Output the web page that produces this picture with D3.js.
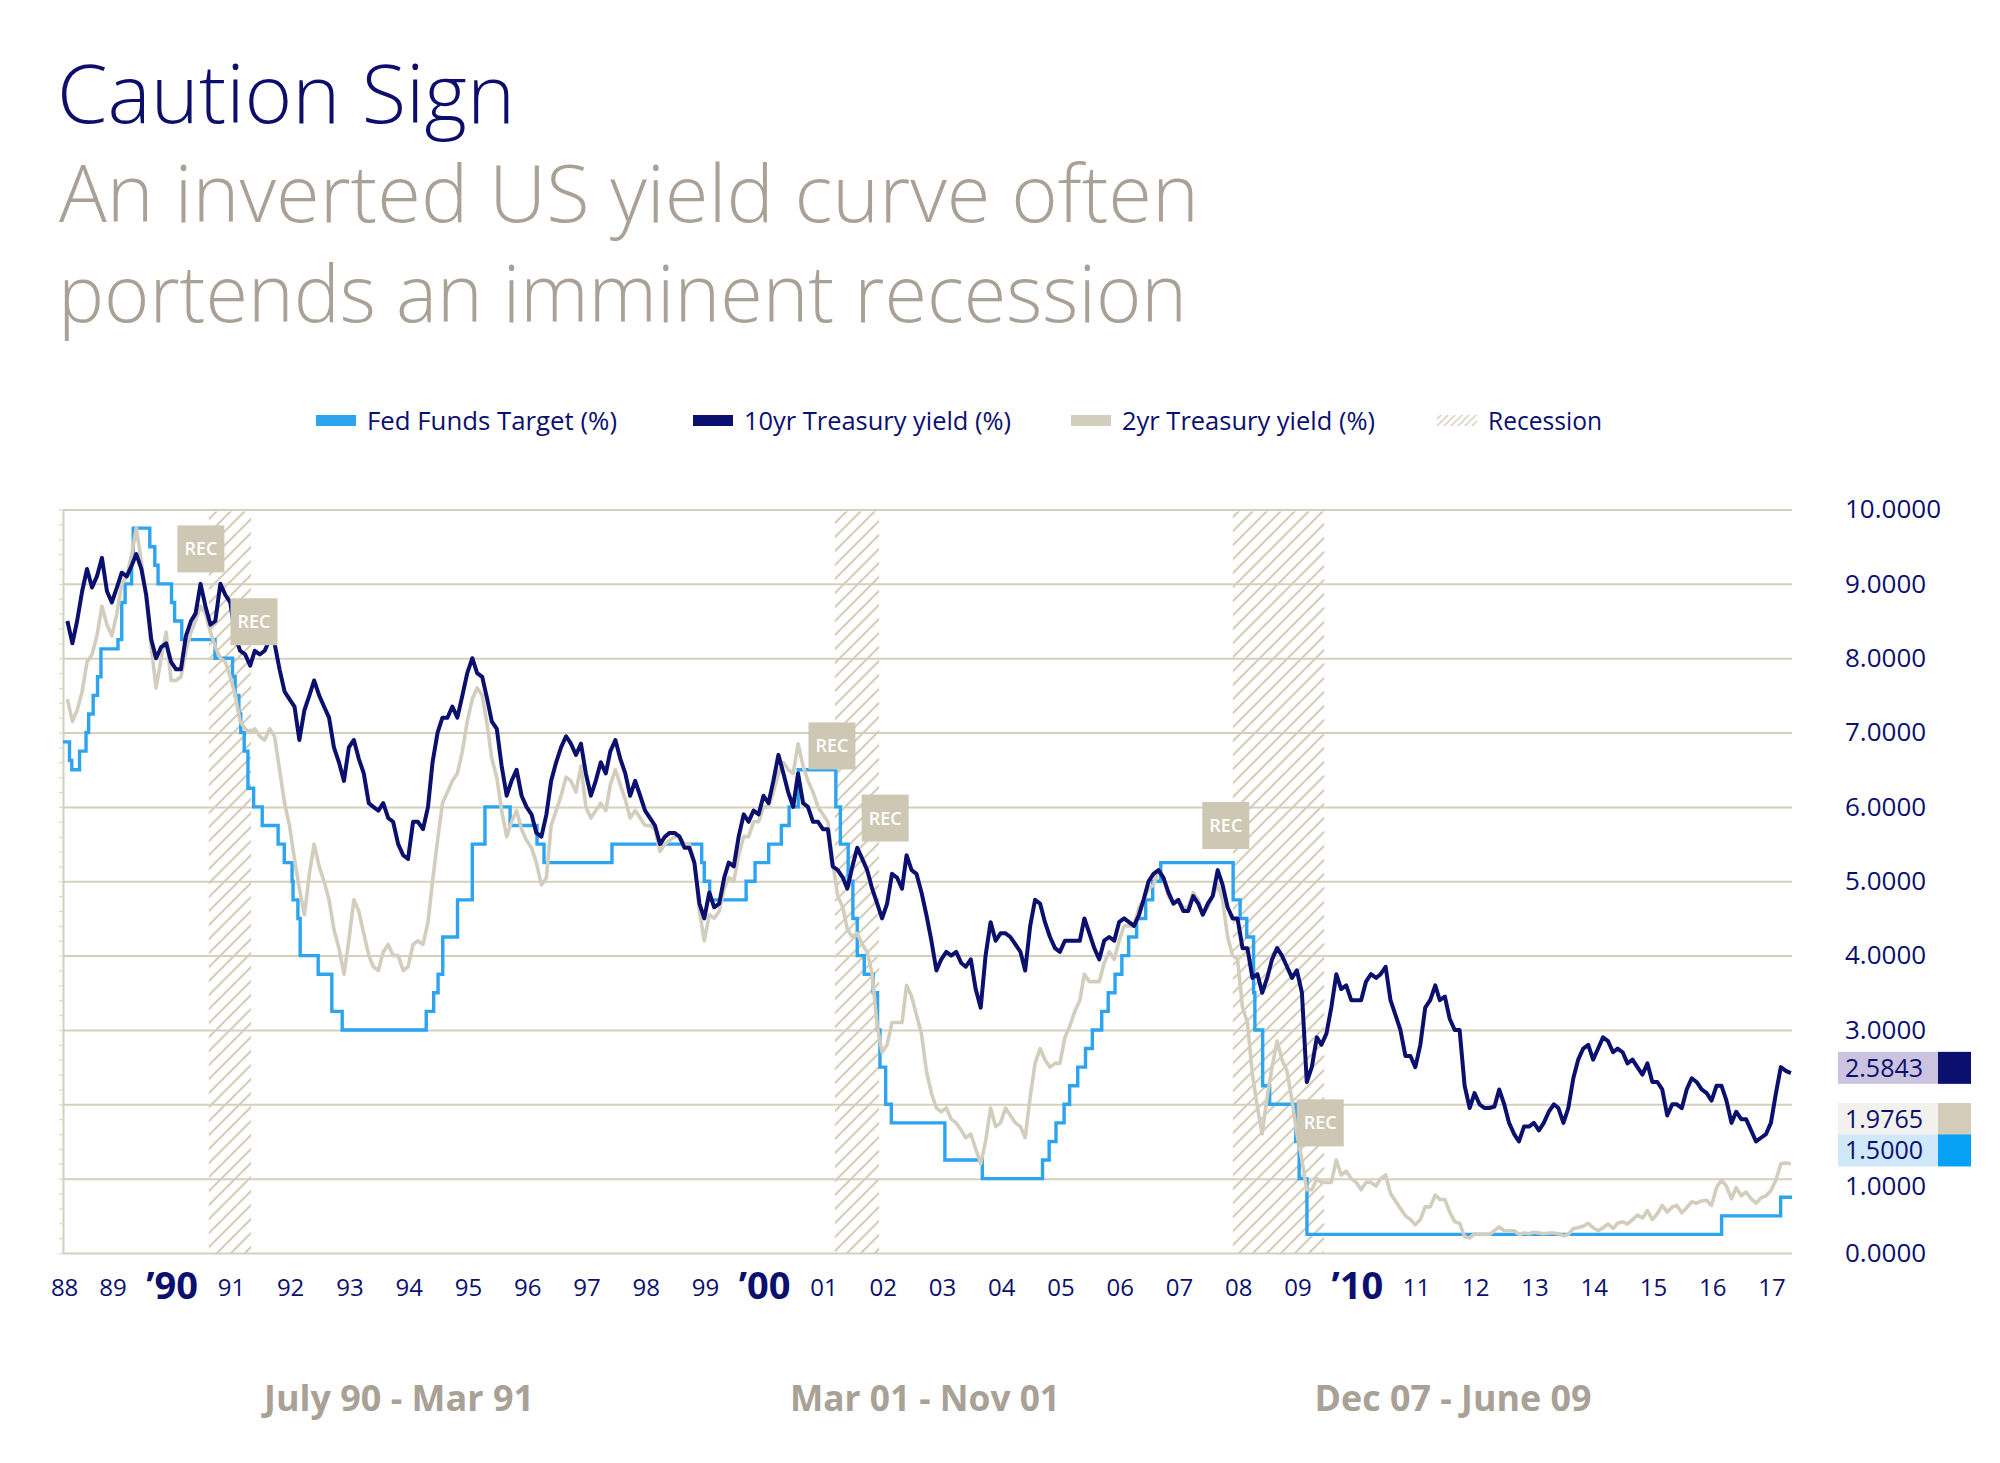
<!DOCTYPE html>
<html><head><meta charset="utf-8">
<script src="https://cdn.jsdelivr.net/npm/d3@7"></script>
<style>
html,body{margin:0;padding:0;background:#fff;}
svg{display:block;}
text{font-family:"Open Sans","Noto Sans",sans-serif;}
</style></head><body>
<svg id="chart" width="2000" height="1463"></svg>
<script>
// ---------------- DATA ----------------
const seriesStart = "1988-01"; // monthly values, first month
const tenYear = [
 8.5,8.2,8.5,8.9,9.2,8.95,9.1,9.35,8.9,8.75,8.95,9.15,
 9.1,9.25,9.4,9.2,8.85,8.25,8.0,8.15,8.2,7.95,7.85,7.85,
 8.3,8.5,8.6,9.0,8.7,8.45,8.5,9.0,8.85,8.75,8.3,8.1,
 8.05,7.9,8.1,8.05,8.1,8.25,8.2,7.85,7.55,7.45,7.35,6.9,
 7.3,7.5,7.7,7.5,7.35,7.2,6.8,6.6,6.35,6.8,6.9,6.65,
 6.45,6.05,6.0,5.95,6.05,5.85,5.8,5.5,5.35,5.3,5.8,5.8,
 5.7,6.0,6.6,7.0,7.2,7.2,7.35,7.2,7.5,7.8,8.0,7.8,
 7.75,7.45,7.15,7.05,6.55,6.15,6.35,6.5,6.15,6.0,5.9,5.65,
 5.6,5.9,6.35,6.6,6.8,6.95,6.85,6.7,6.85,6.45,6.15,6.35,
 6.6,6.45,6.75,6.9,6.65,6.45,6.15,6.35,6.15,5.95,5.85,5.75,
 5.5,5.6,5.65,5.65,5.6,5.45,5.45,5.25,4.7,4.5,4.85,4.65,
 4.7,5.05,5.25,5.2,5.6,5.9,5.8,5.95,5.9,6.15,6.05,6.35,
 6.7,6.45,6.2,6.0,6.45,6.05,6.0,5.8,5.8,5.7,5.7,5.2,
 5.15,5.05,4.9,5.2,5.45,5.3,5.15,4.9,4.7,4.5,4.7,5.1,
 5.05,4.9,5.35,5.15,5.1,4.85,4.55,4.2,3.8,3.95,4.05,4.0,
 4.05,3.9,3.85,3.95,3.55,3.3,4.0,4.45,4.2,4.3,4.3,4.25,
 4.15,4.05,3.8,4.4,4.75,4.7,4.45,4.25,4.1,4.05,4.2,4.2,
 4.2,4.2,4.5,4.3,4.1,3.95,4.2,4.25,4.2,4.45,4.5,4.45,
 4.4,4.55,4.75,5.0,5.1,5.15,5.05,4.85,4.7,4.75,4.6,4.6,
 4.8,4.7,4.55,4.7,4.8,5.15,4.95,4.65,4.5,4.5,4.1,4.1,
 3.7,3.75,3.5,3.7,3.95,4.1,4.0,3.85,3.7,3.8,3.5,2.3,
 2.5,2.9,2.8,2.95,3.3,3.75,3.55,3.6,3.4,3.4,3.4,3.65,
 3.75,3.7,3.75,3.85,3.4,3.2,3.0,2.65,2.65,2.5,2.8,3.3,
 3.4,3.6,3.4,3.45,3.15,3.0,3.0,2.25,1.95,2.15,2.0,1.95,
 1.95,1.97,2.2,2.0,1.75,1.6,1.5,1.7,1.7,1.75,1.65,1.75,
 1.9,2.0,1.95,1.75,1.95,2.35,2.6,2.75,2.8,2.6,2.75,2.9,
 2.85,2.7,2.75,2.7,2.55,2.6,2.5,2.4,2.55,2.3,2.3,2.2,
 1.85,2.0,2.0,1.95,2.2,2.35,2.3,2.2,2.15,2.05,2.25,2.25,
 2.05,1.75,1.9,1.8,1.8,1.65,1.5,1.55,1.6,1.75,2.15,2.5,
 2.45,2.42
];
const twoYear = [
 7.45,7.15,7.3,7.55,7.95,8.05,8.3,8.7,8.45,8.3,8.6,9.0,
 9.1,9.4,9.75,9.3,8.8,8.15,7.6,8.0,8.35,7.7,7.7,7.75,
 8.1,8.35,8.5,8.7,8.6,8.35,8.15,8.0,7.95,7.75,7.5,7.15,
 7.05,7.0,7.05,6.95,6.9,7.05,6.95,6.5,6.05,5.75,5.3,4.9,
 4.55,5.1,5.5,5.2,5.0,4.75,4.35,4.1,3.75,4.2,4.75,4.6,
 4.3,4.0,3.85,3.8,4.05,4.15,4.0,4.0,3.8,3.85,4.15,4.2,
 4.15,4.45,5.0,5.55,6.05,6.2,6.35,6.45,6.75,7.15,7.45,7.6,
 7.5,7.1,6.65,6.4,5.95,5.6,5.8,5.95,5.7,5.55,5.45,5.25,
 4.95,5.05,5.75,5.95,6.15,6.4,6.35,6.2,6.55,6.0,5.85,5.95,
 6.05,5.95,6.3,6.5,6.3,6.1,5.85,5.95,5.85,5.75,5.75,5.7,
 5.4,5.5,5.55,5.6,5.6,5.5,5.5,5.25,4.6,4.2,4.55,4.5,
 4.6,4.9,5.05,5.0,5.35,5.6,5.6,5.8,5.8,6.0,6.0,6.2,
 6.45,6.6,6.5,6.45,6.85,6.55,6.35,6.2,6.0,5.9,5.8,5.25,
 4.8,4.65,4.35,4.25,4.3,4.15,4.05,3.75,3.05,2.7,2.8,3.1,
 3.1,3.1,3.6,3.45,3.2,2.95,2.45,2.15,1.95,1.9,1.95,1.8,
 1.75,1.65,1.55,1.6,1.4,1.2,1.5,1.95,1.7,1.75,1.95,1.85,
 1.75,1.7,1.55,2.1,2.55,2.75,2.6,2.5,2.55,2.55,2.9,3.05,
 3.25,3.4,3.75,3.65,3.65,3.65,3.9,4.05,3.95,4.2,4.4,4.4,
 4.4,4.65,4.75,4.9,4.95,5.15,5.05,4.8,4.7,4.75,4.65,4.65,
 4.85,4.75,4.55,4.65,4.8,4.95,4.75,4.25,4.0,3.95,3.3,3.1,
 2.4,1.95,1.6,2.1,2.5,2.85,2.6,2.45,2.05,1.6,1.25,0.85,
 0.85,1.0,0.95,0.95,0.95,1.25,1.05,1.1,1.0,0.95,0.85,0.95,
 0.95,0.9,1.0,1.05,0.8,0.7,0.6,0.5,0.45,0.38,0.45,0.62,
 0.62,0.78,0.72,0.72,0.55,0.42,0.4,0.22,0.2,0.26,0.25,0.25,
 0.25,0.3,0.35,0.3,0.3,0.3,0.25,0.27,0.26,0.28,0.27,0.26,
 0.27,0.27,0.26,0.23,0.25,0.33,0.34,0.36,0.4,0.34,0.3,0.34,
 0.39,0.33,0.4,0.42,0.39,0.45,0.51,0.47,0.57,0.45,0.53,0.64,
 0.55,0.62,0.64,0.54,0.61,0.69,0.67,0.7,0.71,0.64,0.88,0.98,
 0.9,0.73,0.88,0.77,0.82,0.73,0.67,0.74,0.77,0.84,0.98,1.2,
 1.21,1.2
];
// Fed funds target: change dates and new target level (%)
const fedDates = ["1987-12-19","1988-01-28","1988-02-11","1988-03-30","1988-05-09","1988-05-25","1988-06-22","1988-07-19","1988-08-09","1988-11-22","1988-12-15","1989-01-05","1989-02-14","1989-02-24","1989-06-06","1989-07-07","1989-07-27","1989-10-18","1989-11-06","1989-12-20","1990-07-13","1990-10-29","1990-11-14","1990-12-07","1990-12-19","1991-01-09","1991-02-01","1991-03-08","1991-04-30","1991-08-06","1991-09-13","1991-10-31","1991-11-06","1991-12-06","1991-12-20","1992-04-09","1992-07-02","1992-09-04","1994-02-04","1994-03-22","1994-04-18","1994-05-17","1994-08-16","1994-11-15","1995-02-01","1995-07-06","1995-12-19","1996-01-31","1997-03-25","1998-09-29","1998-10-15","1998-11-17","1999-06-30","1999-08-24","1999-11-16","2000-02-02","2000-03-21","2000-05-16","2001-01-03","2001-01-31","2001-03-20","2001-04-18","2001-05-15","2001-06-27","2001-08-21","2001-09-17","2001-10-02","2001-11-06","2001-12-11","2002-11-06","2003-06-25","2004-06-30","2004-08-10","2004-09-21","2004-11-10","2004-12-14","2005-02-02","2005-03-22","2005-05-03","2005-06-30","2005-08-09","2005-09-20","2005-11-01","2005-12-13","2006-01-31","2006-03-28","2006-05-10","2006-06-29","2007-09-18","2007-10-31","2007-12-11","2008-01-22","2008-01-30","2008-03-18","2008-04-30","2008-10-08","2008-10-29","2008-12-16","2015-12-16","2016-12-14","2017-02-22"];
const fedTargets = [6.875,6.625,6.5,6.75,7.0,7.25,7.5,7.75,8.125,8.25,8.75,9.0,9.3125,9.75,9.5,9.25,9.0,8.75,8.5,8.25,8.0,7.75,7.5,7.25,7.0,6.75,6.25,6.0,5.75,5.5,5.25,5.0,4.75,4.5,4.0,3.75,3.25,3.0,3.25,3.5,3.75,4.25,4.75,5.5,6.0,5.75,5.5,5.25,5.5,5.25,5.0,4.75,5.0,5.25,5.5,5.75,6.0,6.5,6.0,5.5,5.0,4.5,4.0,3.75,3.5,3.0,2.5,2.0,1.75,1.25,1.0,1.25,1.5,1.75,2.0,2.25,2.5,2.75,3.0,3.25,3.5,3.75,4.0,4.25,4.5,4.75,5.0,5.25,4.75,4.5,4.25,3.5,3.0,2.25,2.0,1.5,1.0,0.25,0.5,0.75,0.75];

const recessionStart = ["1990-06-05","2000-12-28","2007-09-16"];
const recessionEnd   = ["1991-02-20","2001-09-27","2009-04-01"];
const recessionNames = ["July 90 - Mar 91","Mar 01 - Nov 01","Dec 07 - June 09"];

// "REC" markers: anchor date and yield level
const recMarkDates  = ["1990-04-17","1991-03-10","2000-12-10","2001-11-03","2007-08-04","2009-03-08"];
const recMarkLevels = [9.47,8.49,6.82,5.85,5.75,1.75];

const yearTicks  = d3.range(1988, 2018);
const yearLabels = ["88","89","\u201990","91","92","93","94","95","96","97","98","99","\u201900","01","02","03","04","05","06","07","08","09","\u201910","11","12","13","14","15","16","17"];
const yTicks = [0,1,2,3,4,5,6,7,8,9,10];

const seriesNames  = ["Fed Funds Target (%)","10yr Treasury yield (%)","2yr Treasury yield (%)","Recession"];
const lastLabelNames  = ["10yr","2yr","Fed"];
const lastLabelValues = [2.5843, 1.9765, 1.5000];

// ---------------- STYLE / LAYOUT ----------------
const C = {
  navy:"#0b0f6e", blue:"#2da4ef", beige:"#d3cdbd", grid:"#d5cfbd",
  title:"#0d0d6b", sub:"#a9a096", rec:"#cec7b3", hatch:"#d4cdb8"
};
const svg = d3.select("#chart");
const parse = d3.utcParse("%Y-%m-%d");
const x = d3.scaleUtc().domain([parse("1987-12-19"), parse("2017-02-22")]).range([63, 1792]);
const xLab = x.copy().range([63-12, 1792-12]); // printed year labels sit slightly left
const y = d3.scaleLinear().domain([0,10]).range([1253, 509.5]);
const m0 = parse(seriesStart + "-15");
const monthDate = i => d3.utcMonth.offset(m0, i);

const defs = svg.append("defs");
function hatchPattern(id, size, sw){
  const p = defs.append("pattern").attr("id", id).attr("patternUnits","userSpaceOnUse")
    .attr("width", size).attr("height", size);
  p.append("path").attr("d", `M-1,1 l2,-2 M0,${size} l${size},-${size} M${size-1},${size+1} l2,-2`)
    .attr("stroke", C.hatch).attr("stroke-width", sw);
}
hatchPattern("hatch", 14, 2);
hatchPattern("hatchSmall", 7, 1.3);

// ---------------- TITLES ----------------
svg.append("text").attr("x", 57).attr("y", 123).attr("fill", C.title)
  .attr("font-size", 81).attr("font-weight", 350).attr("textLength", 458).attr("lengthAdjust","spacingAndGlyphs")
  .text("Caution Sign");
svg.append("text").attr("x", 59).attr("y", 222).attr("fill", C.sub)
  .attr("font-size", 80).attr("font-weight", 350).attr("textLength", 1140).attr("lengthAdjust","spacingAndGlyphs")
  .text("An inverted US yield curve often");
svg.append("text").attr("x", 58).attr("y", 322).attr("fill", C.sub)
  .attr("font-size", 80).attr("font-weight", 350).attr("textLength", 1129).attr("lengthAdjust","spacingAndGlyphs")
  .text("portends an imminent recession");

// ---------------- LEGEND ----------------
const legendX = [316, 693, 1071, 1437];
const legendFill = [C.blue, C.navy, C.beige, "url(#hatchSmall)"];
const legendTextW = [250, 267, 253, 114];
const lg = svg.append("g").attr("transform","translate(0,421)");
seriesNames.forEach((name,i)=>{
  lg.append("rect").attr("x", legendX[i]).attr("y", -6).attr("width", 40).attr("height", 11).attr("fill", legendFill[i]);
  lg.append("text").attr("x", legendX[i]+51).attr("y", 0).attr("dy","0.35em")
    .attr("font-size", 25).attr("fill", C.navy)
    .attr("textLength", legendTextW[i]).attr("lengthAdjust","spacingAndGlyphs").text(name);
});

// ---------------- GRID / AXES ----------------
const grid = svg.append("g").attr("transform","translate(63,0)")
  .call(d3.axisLeft(y).tickValues(yTicks).tickSize(-(1792-63)).tickFormat("").tickSizeOuter(0));
grid.selectAll("line").attr("stroke", C.grid).attr("stroke-width", 2);
grid.select(".domain").attr("stroke", C.grid).attr("stroke-width", 2);

const minor = svg.append("g").attr("transform","translate(63,0)")
  .call(d3.axisLeft(y).tickValues(d3.range(0, 10.001, 0.2)).tickSize(4).tickFormat(""));
minor.select(".domain").remove();
minor.selectAll("line").attr("stroke", "#ddd7c8").attr("stroke-width", 1.2);

// recession bands
const bands = svg.append("g");
recessionStart.forEach((s,i)=>{
  const x0 = x(parse(s)), x1 = x(parse(recessionEnd[i]));
  bands.append("rect").attr("x", x0).attr("y", y(10)+2).attr("width", x1-x0).attr("height", y(0)-y(10)-2)
    .attr("fill","url(#hatch)");
});

// right value axis (ticks hidden behind the last-value callouts are not printed)
const shownTicks = yTicks.filter(t => !lastLabelValues.some(v => Math.abs(v - t) < 0.1));
const ra = svg.append("g").attr("transform","translate(1845,0)")
  .call(d3.axisRight(y).tickValues(shownTicks).tickSize(0).tickPadding(0).tickFormat(d3.format(".4f")));
ra.select(".domain").remove();
ra.selectAll("text").attr("font-size", 26).attr("fill", C.navy).attr("font-family","'Open Sans',sans-serif")
  .attr("dy", d => d === 1 ? "0.6em" : "0.32em");

// bottom year axis
const ba = svg.append("g").attr("transform","translate(0,1253)")
  .call(d3.axisBottom(xLab).tickValues(yearTicks.map(yr=>new Date(Date.UTC(yr,0,1)))).tickSize(0)
    .tickFormat((d,i)=>yearLabels[i]));
ba.select(".domain").remove();
ba.selectAll("text").each(function(d,i){
  const bold = yearLabels[i].startsWith("\u2019");
  d3.select(this).attr("dy", null).attr("y", bold ? 46 : 43)
    .attr("x", i === 0 ? 11 : 0)
    .attr("font-size", bold ? 38 : 24).attr("font-weight", bold ? 700 : 400)
    .attr("fill", C.navy).attr("font-family","'Open Sans',sans-serif");
});

// ---------------- SERIES ----------------
const line = d3.line().x(d=>x(d[0])).y(d=>y(d[1]));
const fedPts = fedDates.map((d,i)=>[parse(d), fedTargets[i]]);
svg.append("path").datum(fedPts).attr("fill","none").attr("stroke", C.blue).attr("stroke-width", 3.4)
  .attr("d", d3.line().curve(d3.curveStepAfter).x(d=>x(d[0])).y(d=>y(d[1])));
svg.append("path").datum(twoYear.map((v,i)=>[monthDate(i), v])).attr("fill","none")
  .attr("stroke", C.beige).attr("stroke-width", 3.6).attr("stroke-linejoin","round").attr("d", line);
svg.append("path").datum(tenYear.map((v,i)=>[monthDate(i), v])).attr("fill","none")
  .attr("stroke", C.navy).attr("stroke-width", 4).attr("stroke-linejoin","round").attr("d", line);

// REC markers
const rm = svg.append("g");
recMarkDates.forEach((d,i)=>{
  const g = rm.append("g").attr("transform",`translate(${x(parse(d))},${y(recMarkLevels[i])})`);
  g.append("rect").attr("x",-23.5).attr("y",-23.5).attr("width",47).attr("height",47).attr("fill", C.rec);
  g.append("text").attr("text-anchor","middle").attr("dy","0.36em").attr("font-size",18)
    .attr("font-weight",600).attr("fill","#fff").attr("textLength",33).attr("lengthAdjust","spacingAndGlyphs").text("REC");
});

// last value callouts
const lastBg = ["#cbc3df","#f3f1ed","#cfe8fa"];
const lastSw = [C.navy, "#d2ccb8", "#07a1f5"];
const lastNudge = [7, 13, 9];
lastLabelValues.forEach((v,i)=>{
  const cy = y(v) + lastNudge[i];
  const g = svg.append("g").attr("transform",`translate(0,${cy})`);
  g.append("rect").attr("x",1838).attr("y",-16).attr("width",100).attr("height",32).attr("fill", lastBg[i]);
  g.append("rect").attr("x",1938).attr("y",-16).attr("width",33).attr("height",32).attr("fill", lastSw[i]);
  g.append("text").attr("x",1845).attr("dy","0.35em").attr("font-size",25).attr("fill", C.navy)
    .text(d3.format(".4f")(v));
});

// recession period captions
const capX = [399, 925, 1453];
const capW = [270, 270, 277];
recessionNames.forEach((t,i)=>{
  svg.append("text").attr("x", capX[i]).attr("y", 1411).attr("text-anchor","middle")
    .attr("font-size", 35).attr("font-weight", 700).attr("fill", C.sub)
    .attr("textLength", capW[i]).attr("lengthAdjust","spacingAndGlyphs").text(t);
});
</script>
</body></html>
